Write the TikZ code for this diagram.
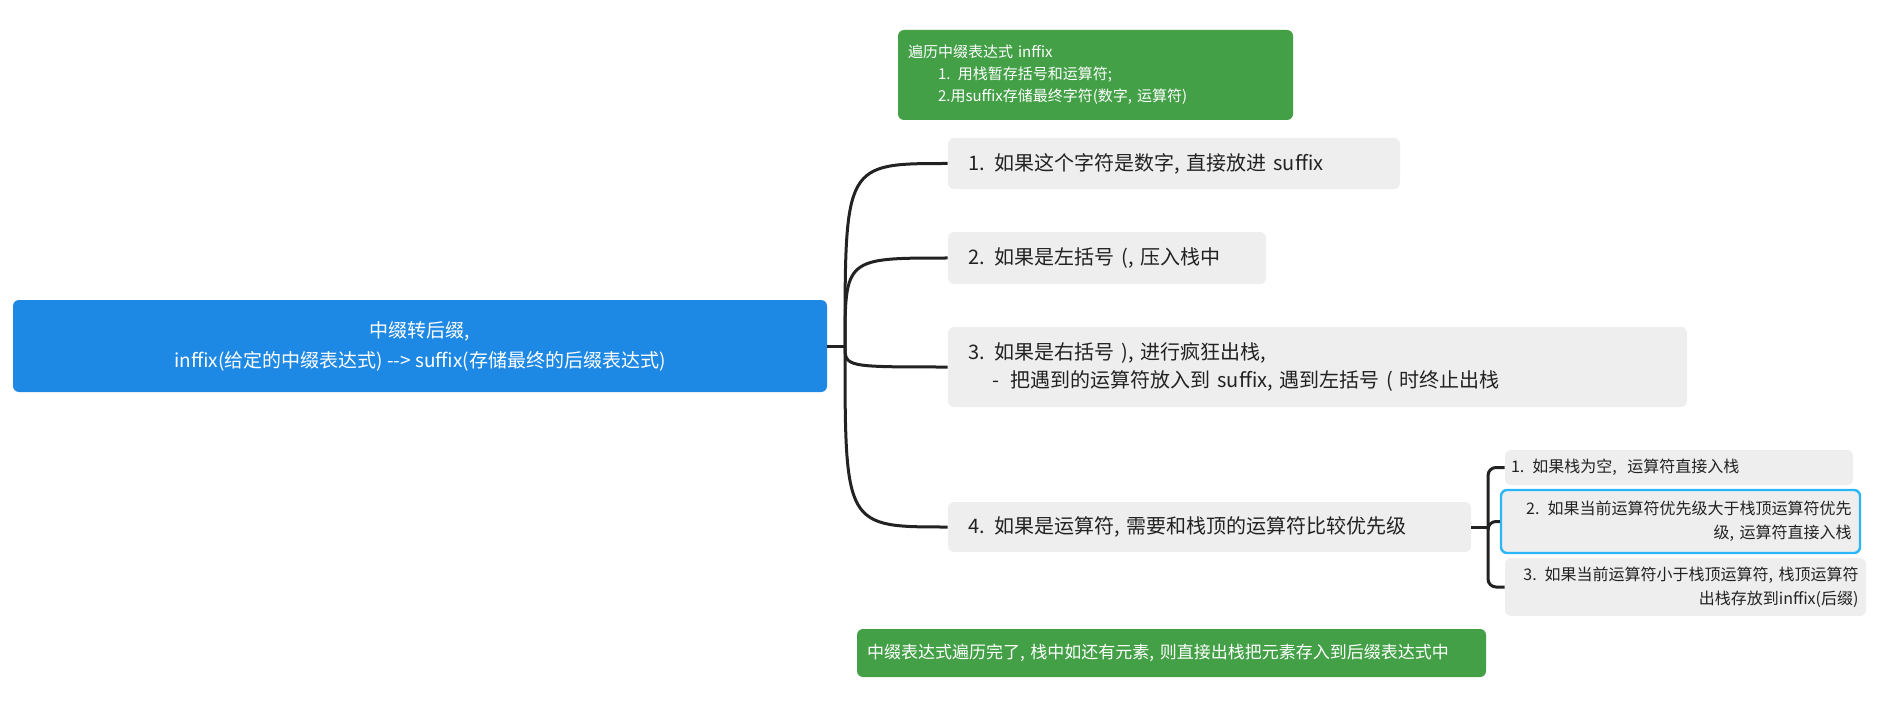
\documentclass[tikz,border=0pt]{standalone}
\usepackage{fontspec}
\setmainfont{Noto Sans CJK SC}
\definecolor{rootblue}{HTML}{1E88E5}
\definecolor{mgreen}{HTML}{43A047}
\definecolor{boxgrey}{HTML}{EEEEEE}
\definecolor{selblue}{HTML}{29B6F6}
\definecolor{txt}{HTML}{222222}
\tikzset{
  gbox/.style={fill=boxgrey,rounded corners=3pt,text=txt,align=left,inner sep=0pt,font=\fontsize{10}{14}\selectfont},
  sbox/.style={fill=boxgrey,rounded corners=3pt,text=txt,inner sep=0pt,font=\fontsize{8}{12}\selectfont},
  greenbox/.style={fill=mgreen,rounded corners=3pt,text=white,align=left,inner sep=0pt},
  conn/.style={line width=1.5pt,draw=txt},
}
\begin{document}
\begin{tikzpicture}[x=0.5pt,y=-0.5pt]
\useasboundingbox (0,0) rectangle (1878,727);
\node[fill=rootblue,rounded corners=3pt,text=white,align=center,minimum width=407pt,minimum height=46pt,inner sep=0pt,font=\fontsize{9.5}{15}\selectfont] (root) at (420,346) {中缀转后缀,\\inffix(给定的中缀表达式) -{}-> suffix(存储最终的后缀表达式)};
\coordinate (hub) at (845,346);
\node[greenbox,minimum width=197.5pt,minimum height=45pt,text width=187.5pt,font=\fontsize{7.5}{11}\selectfont] (top) at (1095.5,75) {遍历中缀表达式 inffix\\\hspace*{15pt}1. 用栈暂存括号和运算符;\\\hspace*{15pt}2.用suffix存储最终字符(数字, 运算符)};
\node[gbox,minimum width=226pt,minimum height=25.5pt,text width=206pt] (b1) at (1174,163.5) {1. 如果这个字符是数字, 直接放进 suffix};
\node[gbox,minimum width=159pt,minimum height=26pt,text width=139pt] (b2) at (1107,258) {2. 如果是左括号 (, 压入栈中};
\node[gbox,minimum width=369.5pt,minimum height=40pt,text width=349.5pt] (b3) at (1317.5,367) {3. 如果是右括号 ), 进行疯狂出栈,\\\hspace*{12pt}-\hspace*{6pt}把遇到的运算符放入到 suffix, 遇到左括号 ( 时终止出栈};
\node[gbox,minimum width=261.5pt,minimum height=25pt,text width=241.5pt] (b4) at (1209.5,527) {4. 如果是运算符, 需要和栈顶的运算符比较优先级};
\node[sbox,minimum width=174pt,minimum height=17.5pt,text width=168pt,align=left] (s1) at (1679,467.5) {1. 如果栈为空,\ \ 运算符直接入栈};
\node[sbox,minimum width=179.5pt,minimum height=31.5pt,text width=171pt,align=right,draw=selblue,line width=1.2pt] (s2) at (1680.5,521.5) {2. 如果当前运算符优先级大于栈顶运算符优先\\级, 运算符直接入栈\ };
\node[sbox,minimum width=180.5pt,minimum height=29pt,text width=173pt,align=right] (s3) at (1685.5,587) {3. 如果当前运算符小于栈顶运算符, 栈顶运算符\\出栈存放到inffix(后缀)};
\node[greenbox,minimum width=314.5pt,minimum height=24pt,text width=304.5pt,font=\fontsize{8.5}{12}\selectfont] (bot) at (1171.5,653) {中缀表达式遍历完了, 栈中如还有元素, 则直接出栈把元素存入到后缀表达式中};
\draw[conn] (root.east) -- (hub);
\foreach \b in {b1,b2,b3,b4} \draw[conn] (hub) .. controls (hub |- \b.west) .. (\b.west);
\coordinate (shub) at (1488,527);
\draw[conn] (b4.east) -- (shub);
\foreach \s in {s1,s2,s3} \draw[conn,rounded corners=4pt] (shub) -- (shub |- \s.west) -- (\s.west);
\end{tikzpicture}
\end{document}
